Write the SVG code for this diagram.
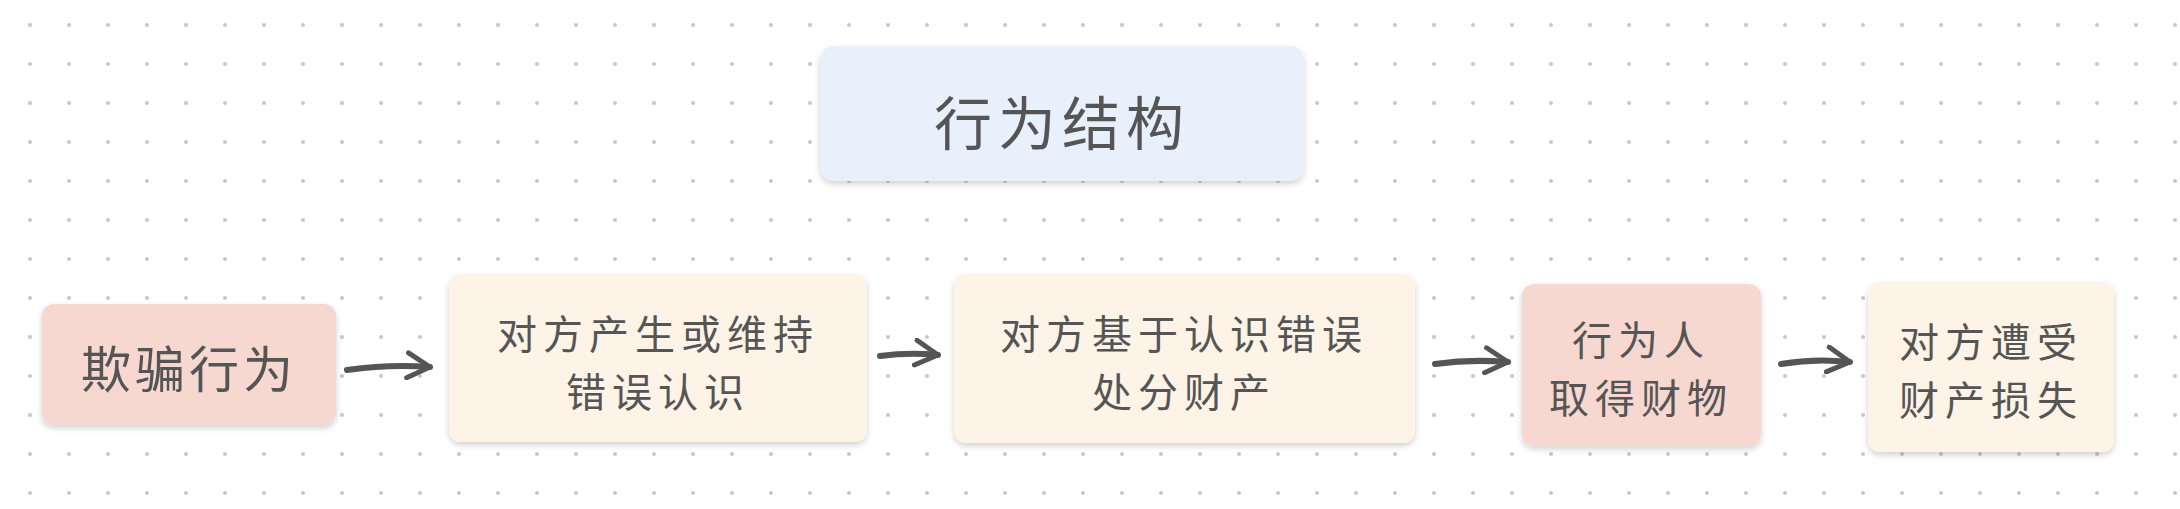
<svg xmlns="http://www.w3.org/2000/svg" width="2180" height="509" viewBox="0 0 2180 509">
<defs>
<pattern id="dots" x="0" y="0" width="39" height="39" patternUnits="userSpaceOnUse"><circle cx="30" cy="25" r="2" fill="#c8c8c8"/></pattern>
<filter id="sh" x="-10%" y="-10%" width="120%" height="130%"><feDropShadow dx="0" dy="3" stdDeviation="3" flood-color="#000" flood-opacity="0.18"/></filter>
<marker id="ah" viewBox="0 0 12 12" refX="10" refY="6" markerWidth="5" markerHeight="5" orient="auto" markerUnits="strokeWidth"><path d="M1,1 L10,6 L1,11" fill="none" stroke="#555" stroke-width="2" stroke-linecap="round" stroke-linejoin="round"/></marker>
</defs>
<style>
.t{font-family:"Noto Sans CJK SC","Noto Sans",sans-serif;fill:#555;text-anchor:middle;dominant-baseline:central}
.pink{fill:#f6d8d0}.cream{fill:#fdf3e6}.blue{fill:#e8f0fb}
.c{stroke:#555;stroke-width:6;fill:none;stroke-linecap:round;marker-end:url(#ah)}
</style>
<rect width="2180" height="509" fill="#fff"/>
<rect width="2180" height="509" fill="url(#dots)"/>
<g id="title"><rect x="820" y="46" width="484" height="135" rx="14" class="blue" filter="url(#sh)"/><text class="t" x="1062" y="120" font-size="58" letter-spacing="6">行为结构</text></g>
<g id="n1"><rect x="42" y="304" width="294" height="121" rx="12" class="pink" filter="url(#sh)"/><text class="t" x="189" y="366" font-size="50" letter-spacing="4">欺骗行为</text></g>
<g id="n2"><rect x="449" y="274" width="418" height="168" rx="12" class="cream" filter="url(#sh)"/><text class="t" x="658" y="332" font-size="40" letter-spacing="6">对方产生或维持</text><text class="t" x="658" y="390" font-size="40" letter-spacing="6">错误认识</text></g>
<g id="n3"><rect x="954" y="274" width="461" height="169" rx="12" class="cream" filter="url(#sh)"/><text class="t" x="1184" y="332" font-size="40" letter-spacing="6">对方基于认识错误</text><text class="t" x="1184" y="390" font-size="40" letter-spacing="6">处分财产</text></g>
<g id="n4"><rect x="1522" y="284" width="239" height="162" rx="12" class="pink" filter="url(#sh)"/><text class="t" x="1641" y="338" font-size="40" letter-spacing="6">行为人</text><text class="t" x="1641" y="396" font-size="40" letter-spacing="6">取得财物</text></g>
<g id="n5"><rect x="1868" y="282" width="246" height="170" rx="12" class="cream" filter="url(#sh)"/><text class="t" x="1991" y="340" font-size="40" letter-spacing="6">对方遭受</text><text class="t" x="1991" y="398" font-size="40" letter-spacing="6">财产损失</text></g>
<g id="connectors">
<path class="c" d="M347,370 Q390,364 430,367"/>
<path class="c" d="M880,356 Q910,352 938,355"/>
<path class="c" d="M1435,364 Q1470,359 1508,362"/>
<path class="c" d="M1781,364 Q1815,358 1850,362"/>
</g>
</svg>
